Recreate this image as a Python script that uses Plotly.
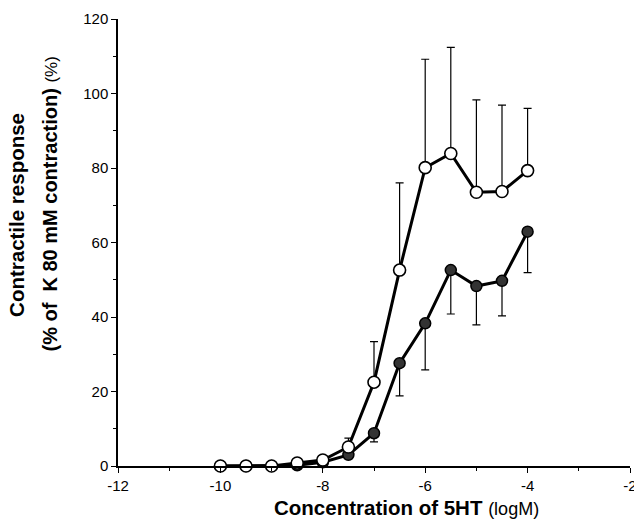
import plotly.graph_objects as go

conc = [-10, -9.5, -9, -8.5, -8, -7.5, -7, -6.5, -6, -5.5, -5, -4.5, -4]
open_vals = [0, 0, 0, 0.8, 1.6, 5.1, 22.5, 52.6, 80.1, 83.9, 73.5, 73.7, 79.3]
open_err_up = [0, 0, 0, 0, 0, 2.4, 10.9, 23.4, 29.1, 28.5, 24.8, 23.2, 16.7]
filled_vals = [0, 0, 0, 0.2, 1.0, 3.0, 8.8, 27.6, 38.3, 52.6, 48.3, 49.7, 62.9]
filled_err_down = [0, 0, 0, 0, 0, 0.8, 2.3, 8.8, 12.5, 11.8, 10.4, 9.4, 11.0]

x_ticks = [-12, -10, -8, -6, -4, -2]
y_ticks = [0, 20, 40, 60, 80, 100, 120]

fig = go.Figure()

fig.add_trace(go.Scatter(
    x=conc, y=filled_vals, mode="lines+markers",
    line=dict(color="black", width=3),
    marker=dict(symbol="circle", size=11, color="#333333",
                line=dict(color="black", width=1.5)),
    error_y=dict(type="data", symmetric=False, array=[0]*len(conc),
                 arrayminus=filled_err_down, color="black", thickness=1.2, width=4),
    cliponaxis=False, showlegend=False,
))

fig.add_trace(go.Scatter(
    x=conc, y=open_vals, mode="lines+markers",
    line=dict(color="black", width=3),
    marker=dict(symbol="circle", size=12, color="white",
                line=dict(color="black", width=1.6)),
    error_y=dict(type="data", symmetric=False, array=open_err_up,
                 arrayminus=[0]*len(conc), color="black", thickness=1.2, width=4),
    cliponaxis=False, showlegend=False,
))

font_fam = "Liberation Sans, Arial, sans-serif"

fig.update_layout(
    width=634, height=519,
    margin=dict(l=118, r=4, t=19, b=53),
    paper_bgcolor="white", plot_bgcolor="white",
    font=dict(family=font_fam, color="black", size=13),
    xaxis=dict(range=[-12, -2], tickvals=x_ticks, ticktext=[str(v) for v in x_ticks],
               showgrid=False, zeroline=False, showline=True, linecolor="black",
               linewidth=1.5, ticks="outside", ticklen=5, tickwidth=1.2, tickcolor="black",
               minor=dict(tickvals=[-11, -9, -7, -5, -3], ticklen=3, ticks="outside",
                          tickcolor="black", tickwidth=1),
               ticklabeloverflow="allow", automargin=False,
               tickfont=dict(size=15)),
    yaxis=dict(range=[0, 120], tickvals=y_ticks, ticktext=[str(v) for v in y_ticks],
               showgrid=False, zeroline=False, showline=True, linecolor="black",
               linewidth=1.5, ticks="outside", ticklen=5, tickwidth=1.2, tickcolor="black",
               minor=dict(tickvals=[10, 30, 50, 70, 90, 110], ticklen=3, ticks="outside",
                          tickcolor="black", tickwidth=1),
               automargin=False,
               tickfont=dict(size=15)),
    annotations=[
        dict(text="<b>Contractile response</b>", xref="paper", yref="paper",
             x=-0.197, y=0.562, xanchor="center", yanchor="middle",
             textangle=-90, showarrow=False, font=dict(size=20.5, family=font_fam)),
        dict(text="<b>(% of  K 80 mM contraction)</b> <span style='font-size:17px'>(%)</span>",
             xref="paper", yref="paper", x=-0.133, y=0.587, xanchor="center",
             yanchor="middle", textangle=-90, showarrow=False,
             font=dict(size=20, family=font_fam)),
        dict(text="<b>Concentration of 5HT</b> <span style='font-size:18px'>(logM)</span>",
             xref="paper", yref="paper", x=0.5625, y=-0.092, xanchor="center",
             yanchor="middle", showarrow=False, font=dict(size=20.5, family=font_fam)),
    ],
)

fig.write_html("out.html", config={"displayModeBar": False},
               post_script="document.body.style.margin='0px';")
